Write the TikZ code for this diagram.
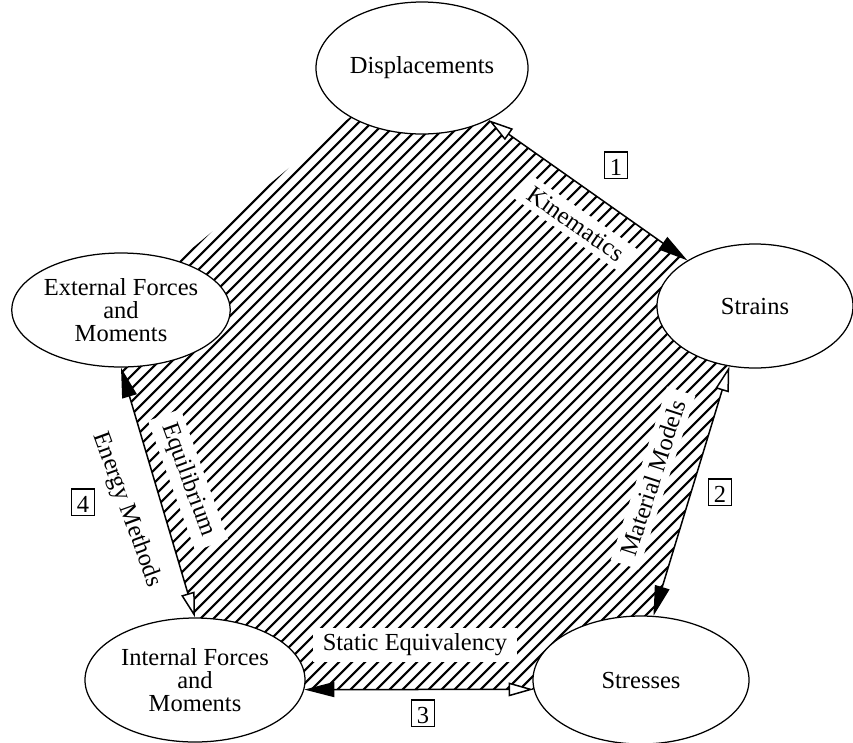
\documentclass[tikz,border=0pt]{standalone}
\usepackage{fontspec}
\setmainfont{Liberation Serif}
\usetikzlibrary{shapes.geometric,arrows.meta,backgrounds}

\tikzset{
  blob/.style={ellipse, draw, fill=white, line width=0.5pt, inner sep=0pt,
    align=center, font=\fontsize{9.8}{9.2}\selectfont},
  lbl/.style={fill=white, inner xsep=4pt, inner ysep=2.5pt, font=\fontsize{9.8}{11}\selectfont},
  numbox/.style={draw, line width=0.5pt, inner sep=1pt, minimum width=9pt,
    text height=8.5pt, text depth=0pt, font=\fontsize{9.8}{11}\selectfont},
  biarrow/.style={line width=0.6pt,
    {Triangle[length=10pt,width=5.5pt,fill=white]}-{Triangle[length=12pt,width=6pt]}},
  hatch/.style={line width=0.85pt}
}

\begin{document}
\begin{tikzpicture}[x=0.4pt,y=-0.4pt]
  \useasboundingbox (0,0) rectangle (853,742);

  % the five quantities
  \node[blob, minimum width=84.8pt, minimum height=52.8pt] (disp) at (422,68) {Displacements};
  \node[blob, minimum width=78.4pt, minimum height=49.6pt] (strains) at (755,306) {Strains};
  \node[blob, minimum width=86.4pt, minimum height=51.2pt] (stress) at (641,680) {Stresses};
  \node[blob, minimum width=88pt, minimum height=49.6pt] (int) at (195,680) {Internal Forces\\and\\Moments};
  \node[blob, minimum width=86.4pt, minimum height=45.6pt] (ext) at (121,310) {External Forces\\and\\Moments};

  % hatched interior
  \begin{scope}[on background layer]
    \clip (ext.center) -- (160,275) -- (360,109) -- (disp.center) -- (disp.-38)
      -- (strains.146) -- (strains.center) -- (strains.-113) -- (stress.79)
      -- (stress.center) -- (stress.185) -- (int.-5) -- (int.center)
      -- (int.north) -- (ext.south) -- cycle;
    \foreach \k in {0,13,...,1600}
      \draw[hatch] (\k-742,742) -- (\k,0);
  \end{scope}

  \draw[biarrow] (disp.-38) -- (strains.146);
  \draw[biarrow] (strains.-113) -- (stress.79);
  \draw[biarrow] (stress.185) -- (int.-5);
  \draw[biarrow] (int.north) -- (ext.south);

  \node[lbl, rotate=-35] (kin) at (576,224) {Kinematics};
  \node[lbl, rotate=72] (mat) at (653,478) {Material Models};
  \node[lbl] (stat) at (415,645) {Static Equivalency};
  \node[lbl, rotate=-70] (equi) at (188,480) {Equilibrium};
  \node[lbl, rotate=-70] (energy) at (127,510) {Energy Methods};

  \node[numbox] (n1) at (616,165) {1};
  \node[numbox] (n2) at (720,492) {2};
  \node[numbox] (n3) at (423,713) {3};
  \node[numbox] (n4) at (83,502) {4};
\end{tikzpicture}
\end{document}
